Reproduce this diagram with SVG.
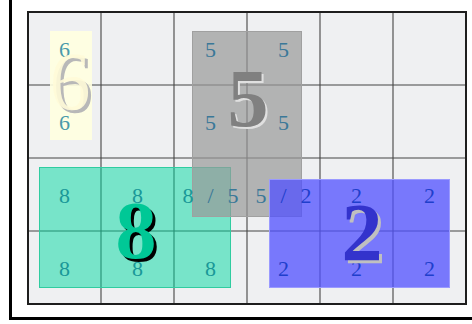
<svg xmlns="http://www.w3.org/2000/svg" width="472" height="324" viewBox="0 0 472 324">
<style>
.grid{stroke:#454545;stroke-width:1.1;fill:none}
.lbl{font-family:"Liberation Serif","Times New Roman",serif;font-size:22px;text-anchor:middle}
.big{font-family:"Liberation Serif","Times New Roman",serif;font-size:82px;text-anchor:middle}
.b{font-weight:bold}
.cy{fill:#4a9aaa}
.cg{fill:#3a7898}
.cn{fill:#1a9898}
.cb{fill:#1f3fcc}
</style>
<rect x="0" y="0" width="472" height="324" fill="#ffffff"/>
<rect x="10.5" y="-5" width="470" height="323.5" fill="none" stroke="#000" stroke-width="3"/>
<g id="grid">
<rect x="28" y="12" width="438" height="292" fill="#eff0f2"/>
<path class="grid" d="M101 12V304M174 12V304M247 12V304M320 12V304M393 12V304M28 85H466M28 158H466M28 231H466"/>
</g>
<g id="region-6">
<rect x="50" y="31" width="42" height="109" fill="#ffffe0" fill-opacity="0.9"/>
<text class="lbl cy" x="64.5" y="56.5">6</text>
<text class="lbl cy" x="64.5" y="129.5">6</text>
<text class="big" x="73" y="112" fill="#b8b8b8">6</text>
<text class="big" x="70" y="109" fill="#fffbd8" fill-opacity="0.9">6</text>
</g>
<g id="region-8">
<rect x="39.5" y="167.5" width="191" height="120" fill="#00d8a0" fill-opacity="0.5" stroke="#30cca0" stroke-width="1"/>
</g>
<g id="region-5">
<rect x="192.5" y="31.5" width="109" height="185" fill="#999999" fill-opacity="0.7" stroke="#a0a0a0" stroke-width="1"/>
<text class="lbl cg" x="210.5" y="56.5">5</text>
<text class="lbl cg" x="283.5" y="56.5">5</text>
<text class="lbl cg" x="210.5" y="129.5">5</text>
<text class="lbl cg" x="283.5" y="129.5">5</text>
<text class="big b" x="250" y="128" fill="#e0e0e0">5</text>
<text class="big b" x="248" y="126" fill="#808080">5</text>
</g>
<g id="region-2">
<rect x="269.5" y="179.5" width="180" height="108" fill="#5050ff" fill-opacity="0.75" stroke="#9a9aff" stroke-width="1"/>
</g>
<g id="labels">
<text class="lbl cn" x="64.5" y="202.5">8</text>
<text class="lbl cn" x="137.5" y="202.5">8</text>
<text class="lbl"><tspan class="cn" x="188" y="202.5">8</tspan><tspan class="cg" x="210.5" y="202.5">/</tspan><tspan class="cg" x="233" y="202.5">5</tspan></text>
<text class="lbl"><tspan class="cg" x="261" y="202.5">5</tspan><tspan class="cb" x="283.5" y="202.5">/</tspan><tspan class="cb" x="306" y="202.5">2</tspan></text>
<text class="lbl cb" x="356.5" y="202.5">2</text>
<text class="lbl cb" x="429.5" y="202.5">2</text>
<text class="lbl cn" x="64.5" y="275.5">8</text>
<text class="lbl cn" x="137.5" y="275.5">8</text>
<text class="lbl cn" x="210.5" y="275.5">8</text>
<text class="lbl cb" x="283.5" y="275.5">2</text>
<text class="lbl cb" x="356.5" y="275.5">2</text>
<text class="lbl cb" x="429.5" y="275.5">2</text>
</g>
<g id="big-8">
<text class="big b" x="139" y="261" fill="#000000">8</text>
<text class="big b" x="136" y="258" fill="#00c896">8</text>
</g>
<g id="big-2">
<text class="big b" x="365" y="263" fill="#c0c0c0">2</text>
<text class="big b" x="362" y="260" fill="#3333cc">2</text>
</g>
<rect x="28" y="12" width="438" height="292" fill="none" stroke="#1e1e1e" stroke-width="2"/>
</svg>
